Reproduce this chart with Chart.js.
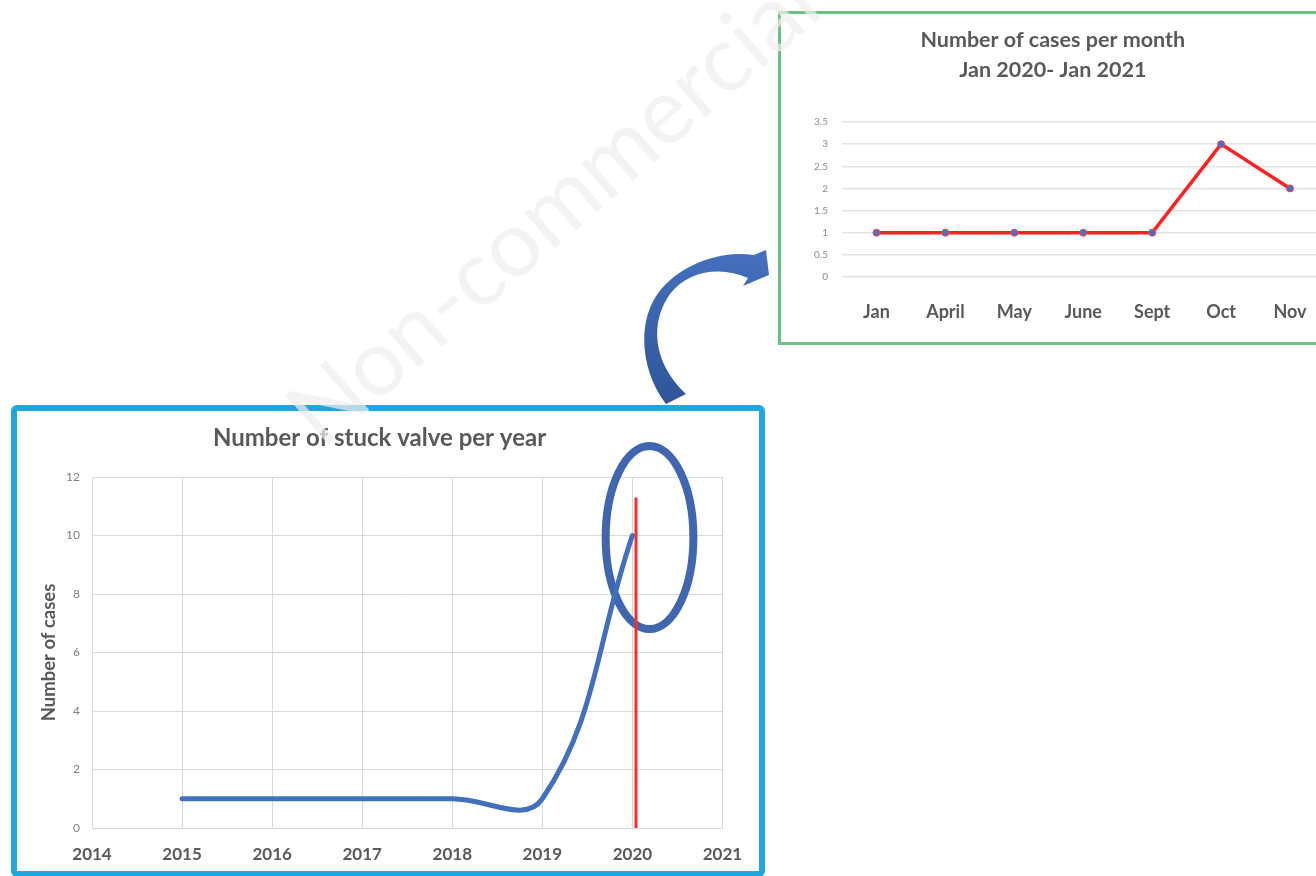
<!DOCTYPE html>
<html>
<head>
<meta charset="utf-8">
<script src="https://cdn.jsdelivr.net/npm/chart.js@4.4.1/dist/chart.umd.min.js"></script>
<style>
  html, body { margin: 0; padding: 0; background: #fff; width: 1316px; height: 876px; overflow: hidden; }
  body { position: relative; font-family: Lato, sans-serif; }
  .box { position: absolute; box-sizing: border-box; }
  #yearBox { left: 11px; top: 405px; width: 754px; height: 472px; border: 6px solid #1ea6de; border-radius: 6px; }
  #monthBox { left: 778px; top: 11px; width: 620px; height: 334px; border: 3px solid #6bc282; }
  canvas, svg { position: absolute; }
  #yearChart { left: 17px; top: 411px; }
  #monthChart { left: 781px; top: 14px; }
  #arrow, #overlay { left: 0; top: 0; pointer-events: none; }
</style>
</head>
<body>
<div class="box" id="yearBox"></div>
<div class="box" id="monthBox"></div>
<canvas id="yearChart" width="742" height="459"></canvas>
<canvas id="monthChart" width="560" height="327"></canvas>
<svg id="arrow" width="1316" height="876">
  <defs>
    <linearGradient id="arrowFill" x1="0" y1="0" x2="0" y2="1">
      <stop offset="0" stop-color="#4470bf"/>
      <stop offset="1" stop-color="#2f5597"/>
    </linearGradient>
  </defs>
  <path fill="url(#arrowFill)" d="M 666 404 C 641 372, 636 322, 659 292 C 679 266, 718 250, 754 255 L 766 250 L 769 275 L 743 286 L 748 278 C 722 266, 688 270, 670 294 C 650 322, 652 362, 686 394 Z"/>
</svg>
<canvas id="overlay" width="1316" height="876"></canvas>
<script>
// yearly chart
const years = [2015, 2016, 2017, 2018, 2019, 2020];
const stuckValves = [1, 1, 1, 1, 1, 10];
const markerYear = 2020.04;
const markerSpan = [0, 11.3];

// monthly chart
const months = ['Jan', 'April', 'May', 'June', 'Sept', 'Oct', 'Nov'];
const monthlyCases = [1, 1, 1, 1, 1, 3, 2];

const grey = '#595959';
const tickGrey = '#808080';

// ring drawn round the 2020 value
const circleFocus = {
  id: 'circleFocus',
  beforeDatasetsDraw(chart) {
    const {ctx, scales: {x, y}} = chart;
    const cx = x.getPixelForValue(2020.19);
    const cy = y.getPixelForValue(9.93);
    const rx = x.getPixelForValue(2020.19 + 0.487) - cx;
    const ry = cy - y.getPixelForValue(9.93 + 3.13);
    ctx.save();
    ctx.beginPath();
    ctx.ellipse(cx, cy, rx, ry, 0, 0, Math.PI * 2);
    ctx.lineWidth = 8;
    ctx.strokeStyle = '#3f66ae';
    ctx.stroke();
    ctx.restore();
  }
};

new Chart(document.getElementById('yearChart'), {
  type: 'line',
  data: {
    datasets: [
      {
        label: 'Stuck valves',
        data: years.map((yr, i) => ({x: yr, y: stuckValves[i]})),
        borderColor: '#4170bd',
        borderWidth: 5,
        borderCapStyle: 'round',
        tension: 0.4,
        pointRadius: 0
      },
      {
        label: '2020',
        data: markerSpan.map(v => ({x: markerYear, y: v})),
        borderColor: '#ff2a2a',
        borderWidth: 3,
        tension: 0,
        pointRadius: 0
      }
    ]
  },
  options: {
    responsive: false,
    animation: false,
    events: [],
    layout: {padding: {left: 16, right: 33, top: 0, bottom: 0}},
    plugins: {
      legend: {display: false},
      tooltip: {enabled: false},
      title: {
        display: true,
        text: 'Number of stuck valve per year',
        color: grey,
        font: {family: 'Lato', size: 24, weight: 'bold', lineHeight: 1.2},
        padding: {top: 12.6, bottom: 24.6}
      }
    },
    scales: {
      x: {
        type: 'linear',
        min: 2014,
        max: 2021,
        ticks: {stepSize: 1, callback: v => String(v), color: grey, font: {family: 'Lato', size: 17, weight: 'bold'}, padding: 16.8, maxRotation: 0},
        grid: {color: '#d9d9d9', drawTicks: false},
        border: {color: '#d9d9d9'},
        afterFit: s => { s.height = 42; }
      },
      y: {
        min: 0,
        max: 12,
        ticks: {stepSize: 2, color: tickGrey, font: {family: 'Lato', size: 12}, padding: 12},
        grid: {color: '#d9d9d9', drawTicks: false},
        border: {color: '#d9d9d9'},
        title: {display: true, text: 'Number of cases', color: grey, font: {family: 'Lato', size: 18.5, weight: 'bold', lineHeight: 1.2}, padding: {top: 4.9, bottom: 0}},
        afterFit: s => { s.width = 59; }
      }
    }
  },
  plugins: [circleFocus]
});

new Chart(document.getElementById('monthChart'), {
  type: 'line',
  data: {
    labels: months,
    datasets: [{
      label: 'Cases',
      data: monthlyCases,
      borderColor: '#ff2121',
      borderWidth: 3.5,
      tension: 0,
      pointRadius: 3.5,
      pointBackgroundColor: '#4a6fc4',
      pointBorderColor: '#ff4040',
      pointBorderWidth: 1
    }]
  },
  options: {
    responsive: false,
    animation: false,
    events: [],
    layout: {padding: {right: 16.5}},
    plugins: {
      legend: {display: false},
      tooltip: {enabled: false},
      title: {
        display: true,
        text: ['Number of cases per month', 'Jan 2020- Jan 2021'],
        color: grey,
        font: {family: 'Lato', size: 21.5, weight: 'bold', lineHeight: '30px'},
        padding: {top: 11, bottom: 37}
      }
    },
    scales: {
      x: {
        offset: true,
        grid: {display: false},
        border: {display: false},
        ticks: {color: grey, font: {family: 'Lato', size: 18, weight: 'bold'}, padding: 16.2, maxRotation: 0},
        afterFit: s => { s.height = 64; }
      },
      y: {
        min: 0,
        max: 3.5,
        ticks: {stepSize: 0.5, callback: v => String(v), color: '#8c8c8c', font: {family: 'Lato', size: 10}, padding: 14},
        grid: {color: '#e3e3e3', lineWidth: 1.5, drawTicks: false},
        border: {display: false},
        afterFit: s => { s.width = 61; }
      }
    }
  }
});

// faint watermark over the page
const wm = document.getElementById('overlay').getContext('2d');
const wmSize = 92;
const ang = -41 * Math.PI / 180;
wm.font = wmSize + 'px Lato';
const lead = wm.measureText('N').width + wm.measureText('o').width / 2;
wm.save();
wm.translate(380 - lead * Math.cos(ang), 370 - lead * Math.sin(ang));
wm.rotate(ang);
wm.textAlign = 'left';
wm.textBaseline = 'alphabetic';
wm.fillStyle = 'rgba(238, 238, 238, 0.72)';
wm.fillText('Non-commercial', 0, wmSize * 0.25);
wm.restore();
</script>
</body>
</html>
